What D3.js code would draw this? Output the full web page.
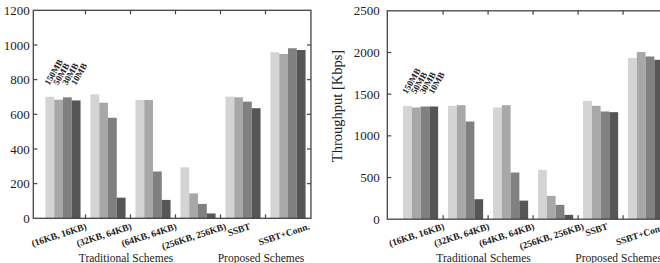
<!DOCTYPE html>
<html>
<head>
  <script src="https://d3js.org/d3.v7.min.js"></script>
  <style>
    body { margin: 0; background: white; }
    svg { display: block; }
    text { font-family: "Liberation Serif", "Times New Roman", serif; fill: #222; }
  </style>
</head>
<body>
<svg width="660" height="263"></svg>
<script>
  // data
  let categories = ["(16KB, 16KB)", "(32KB, 64KB)", "(64KB, 64KB)", "(256KB, 256KB)", "SSBT", "SSBT+Conn."],
    sizes = ["150MB", "50MB", "30MB", "10MB"],
    left_values = [
      [701, 684, 698, 680],
      [715, 667, 580, 119],
      [683, 683, 270, 106],
      [294, 144, 83, 28],
      [702, 698, 673, 635],
      [958, 948, 981, 971]
    ],
    throughput = [
      [1360, 1340, 1352, 1352],
      [1360, 1368, 1172, 240],
      [1340, 1368, 560, 223],
      [592, 280, 172, 52],
      [1420, 1360, 1292, 1284],
      [1933, 2005, 1952, 1912]
    ],
    left_ticks = [0, 200, 400, 600, 800, 1000, 1200],
    right_ticks = [0, 500, 1000, 1500, 2000, 2500],
    scheme_names = ["Traditional Schemes", "Proposed Schemes"],
    scheme_spans = [[0, 4], [4, 6]];

  let fills = ["#d4d4d4", "#a8a8a8", "#808080", "#565656"],
    slot = 45,
    angle = 18;

  let panels = [
    { values: left_values, ticks: left_ticks, ymax: 1200, left: 33.3, top: 10.3, bottom: 218.3,
      xmin: -0.16, size_label_at: 765, tick_gap: 3.5, title: null },
    { values: throughput, ticks: right_ticks, ymax: 2500, left: 387.3, top: 10.8, bottom: 219.2,
      xmin: -0.24, size_label_at: 1495, tick_gap: 7.5, title: "Throughput [Kbps]" }
  ];

  function draw_panel(svg, p) {
    let g = svg.append("g");
    let x = d3.scaleLinear()
      .domain([p.xmin, p.xmin + 6.17])
      .range([p.left, p.left + 6.17 * slot]);
    let y = d3.scaleLinear()
      .domain([0, p.ymax])
      .range([p.bottom, p.top]);
    let sub = d3.scaleBand()
      .domain(sizes)
      .range([0.11, 0.89]);
    let x_right = x.range()[1];

    // bars
    g.append("g").selectAll("g")
      .data(p.values).enter()
      .append("g")
      .each(function (vals, i) {
        d3.select(this).selectAll("rect")
          .data(vals).enter()
          .append("rect")
          .attr("x", (d, j) => x(i + sub(sizes[j])))
          .attr("width", x(i + sub.bandwidth()) - x(i))
          .attr("y", d => y(d))
          .attr("height", d => y(0) - y(d))
          .attr("fill", (d, j) => fills[j]);
      });

    // frame
    g.append("rect")
      .attr("x", p.left).attr("y", p.top)
      .attr("width", x_right - p.left).attr("height", p.bottom - p.top)
      .attr("fill", "none").attr("stroke", "#444").attr("stroke-width", 1.3);

    // y ticks, both sides, pointing in
    let yt = g.append("g");
    yt.selectAll("line.l").data(p.ticks.slice(1, -1)).enter()
      .append("line")
      .attr("x1", p.left).attr("x2", p.left + 4)
      .attr("y1", d => y(d)).attr("y2", d => y(d))
      .attr("stroke", "#444").attr("stroke-width", 1.2);
    yt.selectAll("line.r").data(p.ticks.slice(1, -1)).enter()
      .append("line")
      .attr("x1", x_right).attr("x2", x_right - 4)
      .attr("y1", d => y(d)).attr("y2", d => y(d))
      .attr("stroke", "#444").attr("stroke-width", 1.2);
    yt.selectAll("text").data(p.ticks).enter()
      .append("text")
      .attr("x", p.left - p.tick_gap)
      .attr("y", d => y(d))
      .attr("dy", "0.35em")
      .attr("text-anchor", "end")
      .attr("font-size", "13px")
      .text(d => d);

    // x ticks at the group boundaries
    let bounds = d3.range(1, categories.length);
    g.append("g").selectAll("line").data(bounds).enter()
      .append("line")
      .attr("x1", d => x(d)).attr("x2", d => x(d))
      .attr("y1", p.bottom).attr("y2", p.bottom - 4)
      .attr("stroke", "#444").attr("stroke-width", 1.2);
    g.append("g").selectAll("line").data(bounds).enter()
      .append("line")
      .attr("x1", d => x(d)).attr("x2", d => x(d))
      .attr("y1", p.top).attr("y2", p.top + 4)
      .attr("stroke", "#444").attr("stroke-width", 1.2);

    // category labels, tilted
    let cos = Math.cos(angle * Math.PI / 180);
    g.append("g").selectAll("text")
      .data(categories).enter()
      .append("text")
      .attr("text-anchor", "end")
      .attr("font-size", "9.5px")
      .attr("font-weight", "bold")
      .text(d => d)
      .attr("transform", function (d, i) {
        let len = this.getComputedTextLength();
        let ex = x(i + 0.5) + len * cos / 2 - 3;
        return `translate(${ex}, 229) rotate(${-angle})`;
      });

    // size labels over the first group
    g.append("g").selectAll("text")
      .data(sizes).enter()
      .append("text")
      .attr("font-size", "9px")
      .attr("font-weight", "bold")
      .attr("transform", d => `translate(${x(sub(d) + sub.bandwidth() / 2) - 0.5}, ${y(p.size_label_at)}) rotate(-60)`)
      .text(d => d);

    // scheme names
    g.append("g").selectAll("text")
      .data(scheme_names).enter()
      .append("text")
      .attr("x", (d, i) => x((scheme_spans[i][0] + scheme_spans[i][1]) / 2 - 0.1))
      .attr("y", 262)
      .attr("text-anchor", "middle")
      .attr("font-size", "11.5px")
      .text(d => d);

    if (p.title) {
      g.append("text")
        .attr("transform", `translate(${p.left - 45.5}, ${(p.top + p.bottom) / 2 - 9}) rotate(-90)`)
        .attr("text-anchor", "middle")
        .attr("font-size", "14.5px")
        .text(p.title);
    }
  }

  let svg = d3.select("svg");
  panels.forEach(p => draw_panel(svg, p));
</script>
</body>
</html>
